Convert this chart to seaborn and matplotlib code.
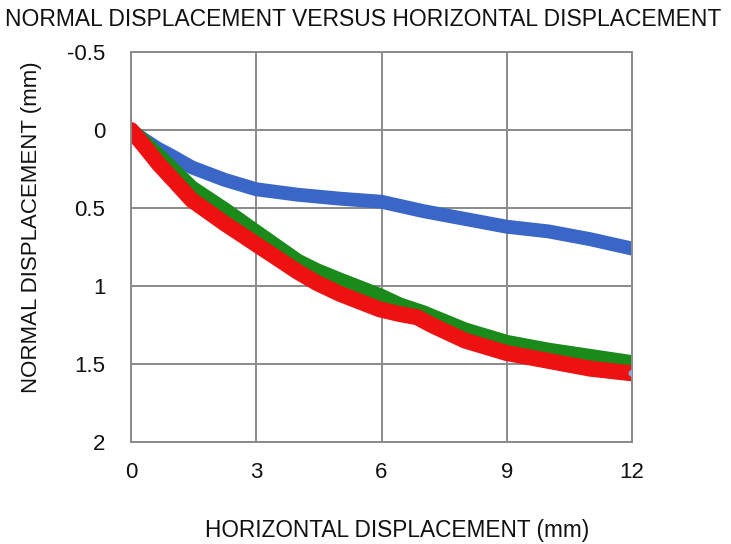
import matplotlib
matplotlib.use("Agg")
import matplotlib.pyplot as plt
import seaborn as sns
import pandas as pd

# Data
blue_x = [0, 0.3, 0.65, 1.0, 1.46, 2.25, 3, 4, 5, 6, 6.5, 7, 8, 9, 10, 11, 12]
blue_y = [0, 0.06, 0.12, 0.17, 0.24, 0.32, 0.38, 0.415, 0.44, 0.46, 0.49, 0.52, 0.57, 0.62, 0.65, 0.70, 0.76]

green_x = [0, 0.5, 1.0, 1.46, 2.25, 3.04, 4, 4.45, 5, 5.96, 6.44, 7, 8, 9, 10, 11, 12]
green_y = [0, 0.12, 0.25, 0.37, 0.51, 0.66, 0.84, 0.90, 0.96, 1.06, 1.12, 1.17, 1.28, 1.36, 1.41, 1.45, 1.49]

red_x = [0, 0.34, 0.67, 1.05, 1.46, 2.25, 3.04, 4, 4.45, 5, 5.96, 6.44, 6.85, 7.2, 8, 9, 10, 11, 12]
red_y = [0, 0.11, 0.22, 0.33, 0.45, 0.60, 0.74, 0.91, 0.98, 1.05, 1.15, 1.18, 1.20, 1.25, 1.35, 1.43, 1.48, 1.53, 1.56]

x_ticks = [0, 3, 6, 9, 12]
y_ticks = [-0.5, 0, 0.5, 1, 1.5, 2]
y_tick_labels = ["-0.5", "0", "0.5", "1", "1.5", "2"]

sns.set_style("white")
plt.rcParams['font.family'] = ['Liberation Sans', 'DejaVu Sans']

fig = plt.figure(figsize=(7.31, 5.44), dpi=100)
ax = fig.add_axes([131/731, 1 - 442/544, (632-131)/731, (442-52)/544])

series = [
    (blue_x, blue_y, "#3a66c8", 10),
    (green_x, green_y, "#1a8a1a", 10.5),
    (red_x, red_y, "#ee1111", 11.5),
]
for xs, ys, col, lw in series:
    df = pd.DataFrame({"x": xs, "y": ys})
    sns.lineplot(data=df, x="x", y="y", ax=ax, color=col, linewidth=lw,
                 sort=False, estimator=None, solid_capstyle="round",
                 solid_joinstyle="round")

end_df = pd.DataFrame({"x": [red_x[-1]], "y": [red_y[-1]]})
sns.scatterplot(data=end_df, x="x", y="y", ax=ax, color="#88aadd", s=25,
                edgecolor="none", zorder=5)

ax.set_xlim(0, 12)
ax.set_ylim(2, -0.5)
ax.set_xticks(x_ticks)
ax.set_xticklabels([str(t) for t in x_ticks])
ax.set_yticks(y_ticks)
ax.set_yticklabels(y_tick_labels)
ax.grid(True, color="#8a8a8a", linewidth=1.4)
ax.set_axisbelow(True)
for s in ax.spines.values():
    s.set_color("#8a8a8a")
    s.set_linewidth(1.4)
ax.tick_params(axis="both", length=0, labelsize=16, colors="#111111")
ax.tick_params(axis="y", pad=18.5)
ax.tick_params(axis="x", pad=14.5)

ax.set_xlabel("HORIZONTAL DISPLACEMENT (mm)", fontsize=16.3, color="#111111")
ax.xaxis.set_label_coords(0.531, -0.197)
ax.set_ylabel("NORMAL DISPLACEMENT (mm)", fontsize=16, color="#111111")
ax.yaxis.set_label_coords(-0.178, 0.551)

fig.text(5/731, 1 - 19/544, "NORMAL DISPLACEMENT VERSUS HORIZONTAL DISPLACEMENT",
         fontsize=16.5, ha="left", va="center", color="#111111")

fig.savefig("out.png", dpi=100)
